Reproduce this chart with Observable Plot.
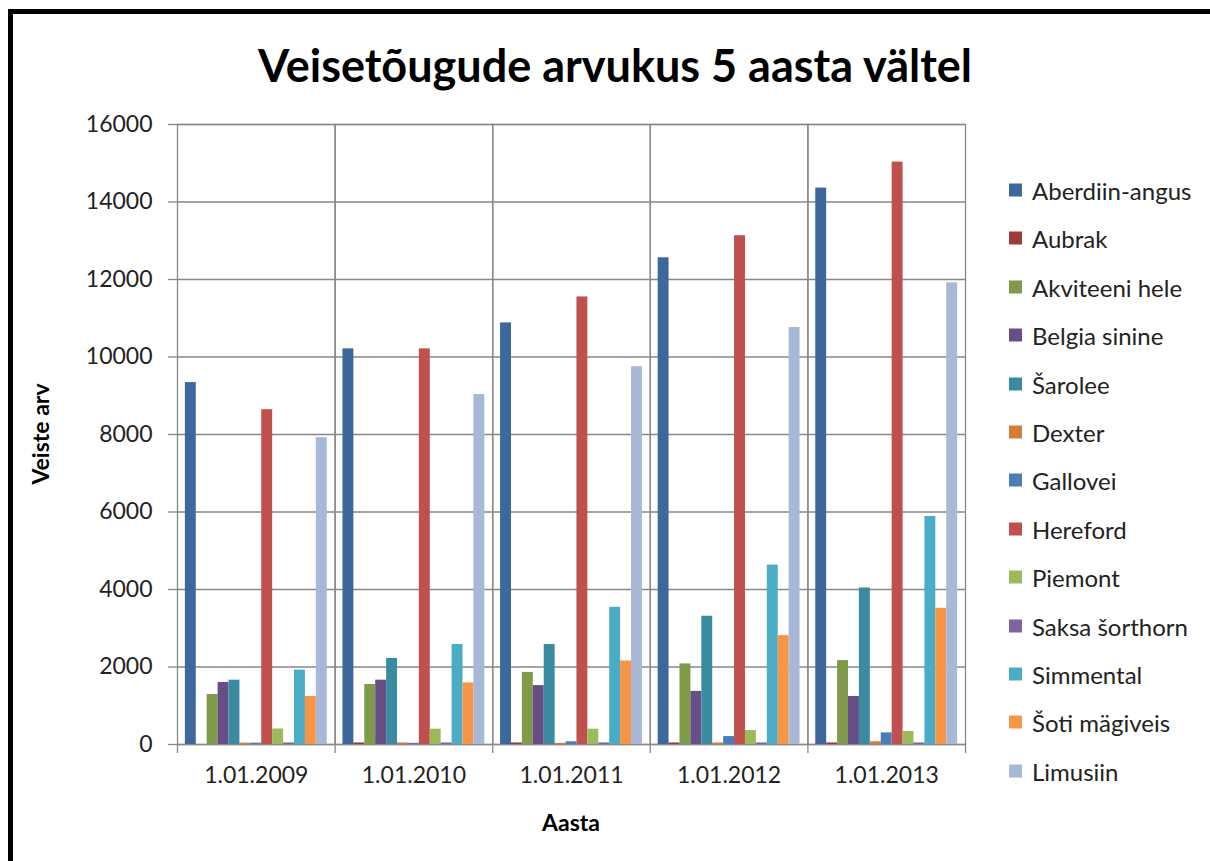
<!DOCTYPE html>
<html>
<head>
<meta charset="utf-8">
<script src="https://cdn.jsdelivr.net/npm/d3@7"></script>
<script src="https://cdn.jsdelivr.net/npm/@observablehq/plot@0.6"></script>
<style>
  html, body { margin: 0; padding: 0; background: #fff; }
  #page { position: relative; width: 1210px; height: 861px; overflow: hidden; font-family: Lato, "Open Sans", sans-serif; color: #222; }
  #border { position: absolute; left: 8px; top: 9px; right: -10px; bottom: -10px; border-left: 5px solid #000; border-top: 5px solid #000; }
  #title { position: absolute; left: 0; width: 1230px; top: 38px; text-align: center; font-weight: 700; font-size: 45px; color: #000; }
  #ylabel { position: absolute; left: 40px; top: 434px; transform: translate(-50%, -50%) rotate(-90deg); font-weight: 700; font-size: 23px; color: #000; white-space: nowrap; }
  #xlabel { position: absolute; left: 571px; top: 822px; transform: translate(-50%, -50%); font-weight: 700; font-size: 23px; color: #000; }
  #chart { position: absolute; left: 0; top: 0; }
  #legend { position: absolute; left: 1009px; top: 0; }
  .item { position: absolute; left: 0; display: flex; align-items: center; white-space: nowrap; font-size: 24px; color: #222; transform: translateY(-50%); }
  .sw { width: 13px; height: 13px; margin-right: 10px; }
</style>
</head>
<body>
<div id="page">
  <div id="chart"></div>
  <div id="border"></div>
  <div id="title">Veisetõugude arvukus 5 aasta vältel</div>
  <div id="ylabel">Veiste arv</div>
  <div id="xlabel">Aasta</div>
  <div id="legend"></div>
</div>
<script>
const years = ["1.01.2009", "1.01.2010", "1.01.2011", "1.01.2012", "1.01.2013"];
const breeds = ["Aberdiin-angus", "Aubrak", "Akviteeni hele", "Belgia sinine", "Šarolee", "Dexter", "Gallovei", "Hereford", "Piemont", "Saksa šorthorn", "Simmental", "Šoti mägiveis", "Limusiin"];
const colors = ["#3D689C", "#9D3B38", "#7F9A48", "#674E86", "#3A8BA2", "#D27D38", "#4A7EBB", "#C0504D", "#9BBB59", "#8064A2", "#4BACC6", "#F79646", "#A8B8D7"];
const v2009 = [9340, 0, 1290, 1600, 1660, 35, 35, 8640, 400, 40, 1920, 1240, 7920];
const v2010 = [10210, 40, 1550, 1660, 2220, 40, 30, 10210, 395, 40, 2580, 1590, 9030];
const v2011 = [10880, 40, 1860, 1520, 2580, 30, 70, 11550, 395, 40, 3540, 2155, 9750];
const v2012 = [12560, 40, 2080, 1370, 3310, 40, 205, 13130, 360, 40, 4630, 2810, 10760];
const v2013 = [14360, 40, 2165, 1240, 4040, 70, 300, 15030, 335, 40, 5885, 3515, 11915];
const yTicks = [0, 2000, 4000, 6000, 8000, 10000, 12000, 14000, 16000];

const series = [v2009, v2010, v2011, v2012, v2013];
const data = [];
years.forEach((yr, i) => breeds.forEach((b, j) => data.push({year: yr, breed: b, value: series[i][j]})));

const W = 1210, H = 861, mL = 177, mR = 245, mT = 124, mB = 117;
const bw = (W - mL - mR) / years.length;
const grid = "#878787";

const chart = Plot.plot({
  width: W, height: H,
  marginLeft: mL, marginRight: mR, marginTop: mT, marginBottom: mB,
  style: {fontFamily: "Lato, 'Open Sans', sans-serif", fontSize: "23px", color: "#222", background: "transparent"},
  fx: {domain: years, paddingInner: 0, paddingOuter: 0, round: false, axis: null, label: null},
  x: {domain: breeds, paddingInner: 0, paddingOuter: 0.72, round: false, axis: null, label: null},
  y: {domain: [0, 16000], axis: null, label: null},
  color: {domain: breeds, range: colors},
  marks: [
    Plot.gridY(yTicks, {stroke: grid, strokeOpacity: 1, strokeWidth: 1.3}),
    Plot.frame({stroke: grid, strokeWidth: 1.3}),
    Plot.barY(data, {fx: "year", x: "breed", y: "value", fill: "breed"}),
    Plot.axisY({ticks: yTicks, tickFormat: d => String(d), tickSize: 9, tickPadding: 16, stroke: grid, strokeWidth: 1.3, label: null, fill: "#222"}),
    Plot.axisFx({anchor: "bottom", tickSize: 0, tickPadding: 22, label: null, fill: "#222"}),
    Plot.axisFx({anchor: "bottom", tickSize: 9, tickFormat: () => "", dx: -bw / 2, stroke: grid, strokeWidth: 1.3, label: null}),
    Plot.axisFx({anchor: "bottom", ticks: [years[years.length - 1]], tickSize: 9, tickFormat: () => "", dx: bw / 2, stroke: grid, strokeWidth: 1.3, label: null})
  ]
});
document.getElementById("chart").appendChild(chart);

const legend = document.getElementById("legend");
const rowTop = 190, rowStep = 48.4;
breeds.forEach((b, i) => {
  const it = document.createElement("div");
  it.className = "item";
  it.style.top = (rowTop + i * rowStep) + "px";
  const sw = document.createElement("span");
  sw.className = "sw";
  sw.style.background = colors[i];
  const t = document.createElement("span");
  t.textContent = b;
  it.appendChild(sw);
  it.appendChild(t);
  legend.appendChild(it);
});
</script>
</body>
</html>
